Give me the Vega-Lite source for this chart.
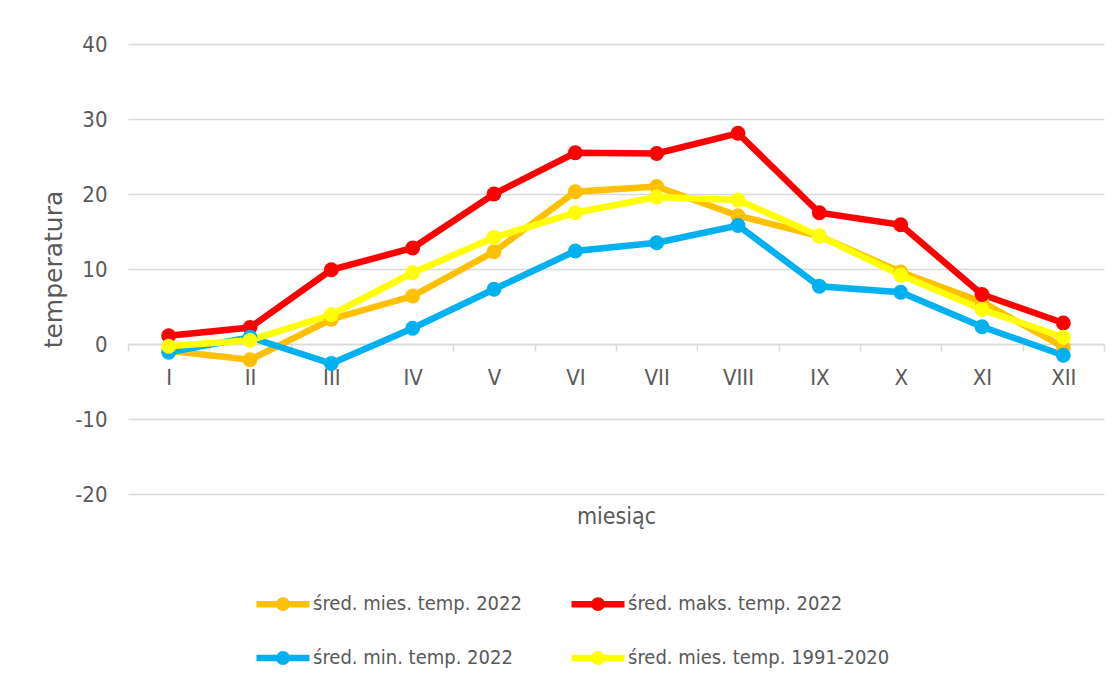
{
  "$schema": "https://vega.github.io/schema/vega-lite/v6.json",
  "width": 976,
  "height": 450,
  "autosize": {"type": "none"},
  "padding": {"left": 128, "top": 44, "right": 14, "bottom": 197},
  "background": "white",
  "config": {
    "view": {"stroke": null},
    "font": "DejaVu Sans Condensed, sans-serif"
  },
  "data": {
    "values": [
      {"m": "I", "s": "śred. mies. temp. 2022", "t": -0.9},
      {"m": "II", "s": "śred. mies. temp. 2022", "t": -2.1},
      {"m": "III", "s": "śred. mies. temp. 2022", "t": 3.3},
      {"m": "IV", "s": "śred. mies. temp. 2022", "t": 6.4},
      {"m": "V", "s": "śred. mies. temp. 2022", "t": 12.3},
      {"m": "VI", "s": "śred. mies. temp. 2022", "t": 20.3},
      {"m": "VII", "s": "śred. mies. temp. 2022", "t": 21.0},
      {"m": "VIII", "s": "śred. mies. temp. 2022", "t": 17.1},
      {"m": "IX", "s": "śred. mies. temp. 2022", "t": 14.4},
      {"m": "X", "s": "śred. mies. temp. 2022", "t": 9.6},
      {"m": "XI", "s": "śred. mies. temp. 2022", "t": 5.6},
      {"m": "XII", "s": "śred. mies. temp. 2022", "t": -0.4},
      {"m": "I", "s": "śred. maks. temp. 2022", "t": 1.1},
      {"m": "II", "s": "śred. maks. temp. 2022", "t": 2.2},
      {"m": "III", "s": "śred. maks. temp. 2022", "t": 9.9},
      {"m": "IV", "s": "śred. maks. temp. 2022", "t": 12.8},
      {"m": "V", "s": "śred. maks. temp. 2022", "t": 20.0},
      {"m": "VI", "s": "śred. maks. temp. 2022", "t": 25.5},
      {"m": "VII", "s": "śred. maks. temp. 2022", "t": 25.4},
      {"m": "VIII", "s": "śred. maks. temp. 2022", "t": 28.1},
      {"m": "IX", "s": "śred. maks. temp. 2022", "t": 17.5},
      {"m": "X", "s": "śred. maks. temp. 2022", "t": 15.9},
      {"m": "XI", "s": "śred. maks. temp. 2022", "t": 6.6},
      {"m": "XII", "s": "śred. maks. temp. 2022", "t": 2.8},
      {"m": "I", "s": "śred. min. temp. 2022", "t": -1.1},
      {"m": "II", "s": "śred. min. temp. 2022", "t": 0.9},
      {"m": "III", "s": "śred. min. temp. 2022", "t": -2.6},
      {"m": "IV", "s": "śred. min. temp. 2022", "t": 2.1},
      {"m": "V", "s": "śred. min. temp. 2022", "t": 7.3},
      {"m": "VI", "s": "śred. min. temp. 2022", "t": 12.4},
      {"m": "VII", "s": "śred. min. temp. 2022", "t": 13.5},
      {"m": "VIII", "s": "śred. min. temp. 2022", "t": 15.8},
      {"m": "IX", "s": "śred. min. temp. 2022", "t": 7.7},
      {"m": "X", "s": "śred. min. temp. 2022", "t": 6.9},
      {"m": "XI", "s": "śred. min. temp. 2022", "t": 2.3},
      {"m": "XII", "s": "śred. min. temp. 2022", "t": -1.5},
      {"m": "I", "s": "śred. mies. temp. 1991-2020", "t": -0.3},
      {"m": "II", "s": "śred. mies. temp. 1991-2020", "t": 0.5},
      {"m": "III", "s": "śred. mies. temp. 1991-2020", "t": 3.9},
      {"m": "IV", "s": "śred. mies. temp. 1991-2020", "t": 9.5},
      {"m": "V", "s": "śred. mies. temp. 1991-2020", "t": 14.2},
      {"m": "VI", "s": "śred. mies. temp. 1991-2020", "t": 17.5},
      {"m": "VII", "s": "śred. mies. temp. 1991-2020", "t": 19.6},
      {"m": "VIII", "s": "śred. mies. temp. 1991-2020", "t": 19.2},
      {"m": "IX", "s": "śred. mies. temp. 1991-2020", "t": 14.4},
      {"m": "X", "s": "śred. mies. temp. 1991-2020", "t": 9.2},
      {"m": "XI", "s": "śred. mies. temp. 1991-2020", "t": 4.6},
      {"m": "XII", "s": "śred. mies. temp. 1991-2020", "t": 0.9}
    ]
  },
  "mark": {"type": "line", "strokeWidth": 6.5, "point": {"filled": true, "size": 220, "opacity": 1}},
  "encoding": {
    "x": {
      "field": "m",
      "type": "nominal",
      "sort": null,
      "scale": {"type": "band", "paddingInner": 0, "paddingOuter": 0},
      "axis": {
        "title": "miesiąc",
        "labelAngle": 0,
        "offset": -150,
        "domainColor": "#d9d9d9",
        "domainWidth": 1.5,
        "tickColor": "#d9d9d9",
        "tickWidth": 1.5,
        "tickSize": 7,
        "tickBand": "extent",
        "labelFontSize": 22,
        "labelColor": "#595959",
        "labelPadding": 16,
        "titleFontSize": 23,
        "titleFontWeight": "normal",
        "titleColor": "#595959",
        "titlePadding": 117,
        "grid": false
      }
    },
    "y": {
      "field": "t",
      "type": "quantitative",
      "scale": {"domain": [-20, 40], "nice": false},
      "axis": {
        "title": "temperatura",
        "values": [-20, -10, 0, 10, 20, 30, 40],
        "labelExpr": "'' + datum.value",
        "domain": false,
        "ticks": false,
        "gridColor": "#d9d9d9",
        "gridWidth": 1.5,
        "labelFontSize": 22,
        "labelColor": "#595959",
        "labelPadding": 21,
        "titleFont": "DejaVu Sans",
        "titleFontSize": 25,
        "titleFontWeight": "normal",
        "titleColor": "#595959",
        "titlePadding": 8
      }
    },
    "color": {
      "field": "s",
      "type": "nominal",
      "sort": null,
      "scale": {
        "domain": ["śred. mies. temp. 2022", "śred. maks. temp. 2022", "śred. min. temp. 2022", "śred. mies. temp. 1991-2020"],
        "range": ["#FFC000", "#FF0000", "#00B0F0", "#FFFF00"]
      },
      "legend": {
        "title": null,
        "orient": "none",
        "legendX": 125,
        "legendY": 530,
        "direction": "horizontal",
        "columns": 2,
        "columnPadding": 36,
        "rowPadding": 7,
        "symbolType": "M-1,0H1M-0.14,0A0.14,0.14 0 1,0 0.14,0A0.14,0.14 0 1,0 -0.14,0Z",
        "symbolSize": 2809,
        "symbolStrokeWidth": 6.5,
        "labelFontSize": 20,
        "labelColor": "#595959",
        "labelOffset": 0,
        "labelLimit": 400
      }
    }
  }
}
